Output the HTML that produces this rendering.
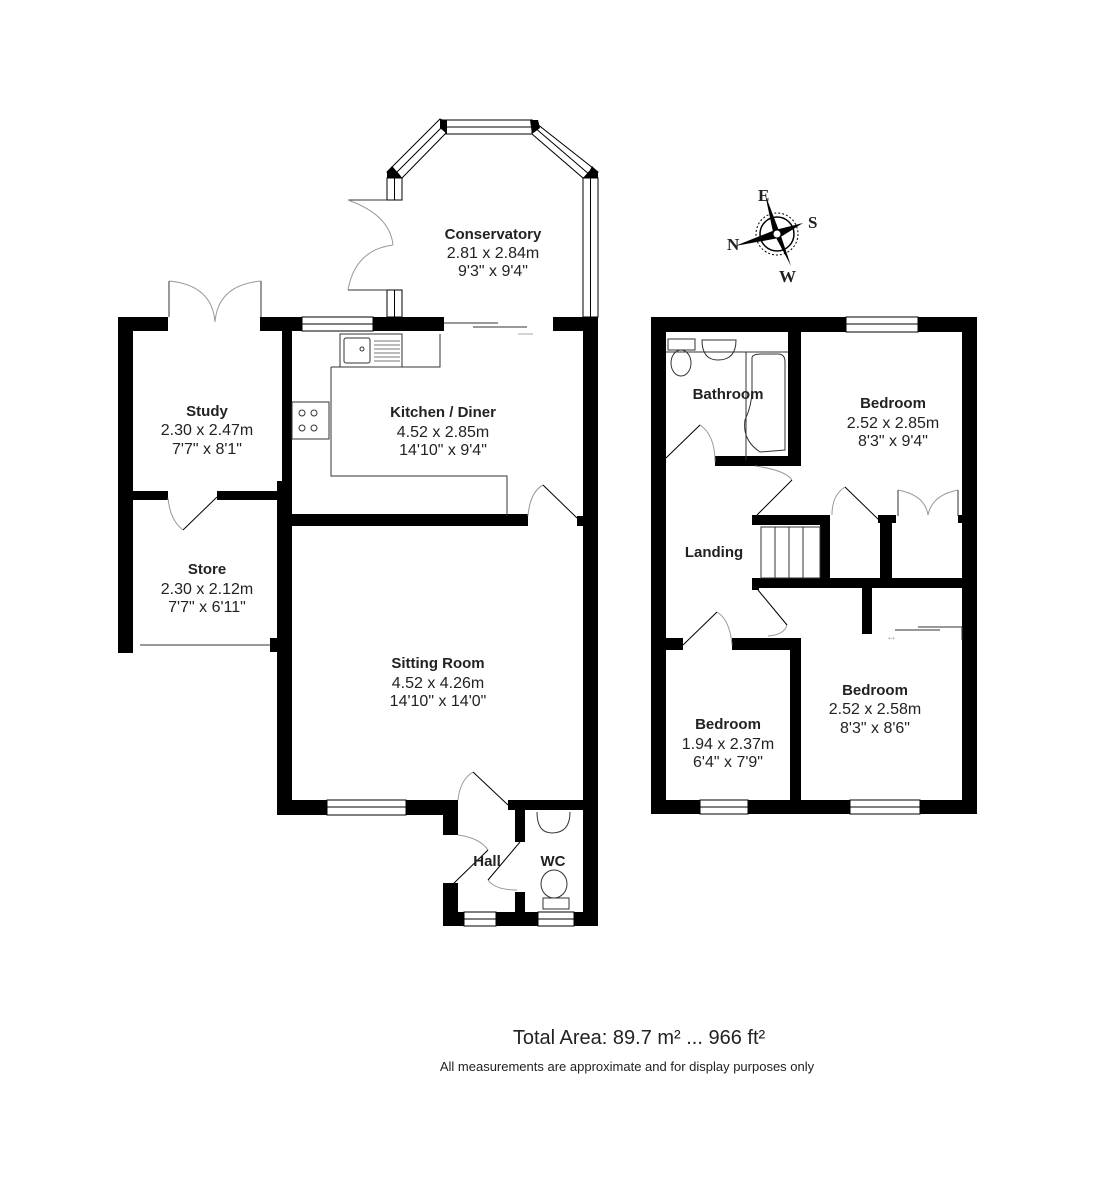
<!DOCTYPE html>
<html><head><meta charset="utf-8"><style>
html,body{margin:0;padding:0;background:#fff}
svg{display:block}
text{font-family:"Liberation Sans",Arial,sans-serif;fill:#222}
.t{font-weight:bold;font-size:15px}
.d{font-size:16px}
</style></head><body>
<svg width="1096" height="1200" viewBox="0 0 1096 1200" xmlns="http://www.w3.org/2000/svg">
<g fill="#000">
<rect x="118" y="317" width="50" height="14"/>
<rect x="260" y="317" width="42" height="14"/>
<rect x="373" y="317" width="71" height="14"/>
<rect x="553" y="317" width="45" height="14"/>
<rect x="118" y="317" width="15" height="336"/>
<rect x="282" y="331" width="10" height="150"/>
<rect x="133" y="491" width="35" height="9"/>
<rect x="217" y="491" width="65" height="9"/>
<rect x="270" y="638" width="22" height="14"/>
<rect x="277" y="481" width="15" height="334"/>
<rect x="292" y="514" width="236" height="12"/>
<rect x="583" y="317" width="15" height="609"/>
<rect x="577" y="516" width="8" height="10"/>
<rect x="277" y="800" width="181" height="15"/>
<rect x="443" y="800" width="15" height="35"/>
<rect x="443" y="883" width="15" height="43"/>
<rect x="443" y="912" width="155" height="14"/>
<rect x="508" y="800" width="90" height="10"/>
<rect x="515" y="800" width="10" height="42"/>
<rect x="515" y="892" width="10" height="20"/>
<rect x="651" y="317" width="326" height="15"/>
<rect x="651" y="317" width="15" height="497"/>
<rect x="962" y="317" width="15" height="497"/>
<rect x="651" y="800" width="326" height="14"/>
<rect x="788" y="331" width="13" height="135"/>
<rect x="715" y="456" width="86" height="10"/>
<rect x="752" y="515" width="78" height="10"/>
<rect x="820" y="515" width="10" height="70"/>
<rect x="752" y="515" width="9" height="10"/>
<rect x="752" y="578" width="225" height="10"/>
<rect x="752" y="578" width="7" height="12"/>
<rect x="880" y="515" width="12" height="70"/>
<rect x="878" y="515" width="18" height="8"/>
<rect x="958" y="515" width="6" height="8"/>
<rect x="862" y="588" width="10" height="46"/>
<rect x="666" y="638" width="17" height="12"/>
<rect x="732" y="638" width="69" height="12"/>
<rect x="790" y="638" width="11" height="162"/>
</g>
<g fill="#fff" stroke="#000" stroke-width="1">
<rect x="302" y="317" width="71" height="14"/><line x1="302" y1="324" x2="373" y2="324"/>
<rect x="327" y="800" width="79" height="15"/><line x1="327" y1="807" x2="406" y2="807"/>
<rect x="464" y="912" width="32" height="14"/><line x1="464" y1="919" x2="496" y2="919"/>
<rect x="538" y="912" width="36" height="14"/><line x1="538" y1="919" x2="574" y2="919"/>
<rect x="846" y="317" width="72" height="15"/><line x1="846" y1="324" x2="918" y2="324"/>
<rect x="700" y="800" width="48" height="14"/><line x1="700" y1="807" x2="748" y2="807"/>
<rect x="850" y="800" width="70" height="14"/><line x1="850" y1="807" x2="920" y2="807"/>
<rect x="387" y="178" width="15" height="22"/><line x1="394.5" y1="178" x2="394.5" y2="200"/>
<rect x="387" y="290" width="15" height="27"/><line x1="394.5" y1="290" x2="394.5" y2="317"/>
<rect x="583" y="178" width="15" height="139"/><line x1="590.5" y1="178" x2="590.5" y2="317"/>
<rect x="445" y="120" width="87" height="14"/><line x1="445" y1="127" x2="532" y2="127"/>
<polygon points="387,172 440,119 446,133 402,178"/>
<line x1="394" y1="175" x2="443" y2="126"/>
<polygon points="532,120 598,172 583,178 532,134"/>
<line x1="534" y1="127" x2="590" y2="175"/>
</g>
<g fill="#000">
<polygon points="387,172 392,166 400,175 402,178 387,178"/>
<polygon points="440,119 447,120 447,134 440,128"/>
<polygon points="530,120 538,120 540,128 532,134"/>
<polygon points="592,166 598,172 598,178 583,178 590,170"/>
</g>
<g fill="none" stroke="#333" stroke-width="1">
<path d="M348 200 L387 200 M348 290 L387 290"/>
<path d="M348 200 Q390 215 393 245 M348 290 Q355 250 393 245" stroke="#999"/>
<path d="M169 281 L169 317 M261 281 L261 317"/>
<path d="M169 281 Q212 285 215 322 M261 281 Q218 285 215 322" stroke="#999"/>
<path d="M168 498 Q170 520 183 530" stroke="#999"/><line x1="183" y1="530" x2="217" y2="497" stroke="#000"/>
<line x1="140" y1="645" x2="270" y2="645"/>
<path d="M444 323 L498 323 M473 327 L527 327"/>
<path d="M518 334 L533 334" stroke="#aaa"/>
<rect x="340" y="334" width="62" height="33"/>
<rect x="344" y="338" width="26" height="25" rx="2"/>
<circle cx="362" cy="349" r="2"/>
<path d="M374 341h26M374 345h26M374 349h26M374 353h26M374 357h26M374 361h26" stroke="#777"/>
<path d="M331 367 L331 476 L507 476 L507 516 M402 367 L440 367 L440 334"/>
<line x1="331" y1="367" x2="440" y2="367"/>
<rect x="292" y="402" width="37" height="37"/>
<circle cx="302" cy="413" r="3"/><circle cx="314" cy="413" r="3"/><circle cx="302" cy="428" r="3"/><circle cx="314" cy="428" r="3"/>
<path d="M528 516 Q530 492 543 485" stroke="#999"/><line x1="543" y1="485" x2="577" y2="518" stroke="#000"/>
<path d="M458 800 Q460 780 473 772" stroke="#999"/><line x1="473" y1="772" x2="508" y2="805" stroke="#000"/>
<path d="M458 835 Q480 838 488 850" stroke="#999"/><line x1="488" y1="850" x2="452" y2="885" stroke="#000"/>
<path d="M517 890 Q495 890 488 880" stroke="#999"/><line x1="488" y1="880" x2="520" y2="842" stroke="#000"/>
<path d="M537 812 Q537 833 552 833 Q570 833 570 812"/>
<ellipse cx="554" cy="884" rx="13" ry="14"/>
<rect x="543" y="898" width="26" height="11"/>
<line x1="666" y1="352" x2="788" y2="352"/>
<rect x="668" y="339" width="27" height="11"/>
<ellipse cx="681" cy="363" rx="10" ry="13"/>
<path d="M702 340 Q702 360 718 360 Q736 360 736 340 Z"/>
<path d="M746 352 L746 460 M746 352 L788 352"/>
<path d="M752 358 Q752 354 762 354 L778 354 Q785 354 785 362 L785 450 L760 452 Q742 440 745 420 Q752 405 752 390 Z"/>
<path d="M715 462 Q715 435 700 425" stroke="#999"/><line x1="700" y1="425" x2="666" y2="458" stroke="#000"/>
<path d="M755 466 Q785 470 792 480" stroke="#999"/><line x1="792" y1="480" x2="757" y2="515" stroke="#000"/>
<rect x="761" y="527" width="59" height="51"/>
<path d="M775 527v51M789 527v51M803 527v51"/>
<path d="M832 515 Q832 495 845 487" stroke="#999"/><line x1="845" y1="487" x2="880" y2="521" stroke="#000"/>
<path d="M898 490 L898 516 M958 490 L958 516"/>
<path d="M898 490 Q925 495 928 515 M958 490 Q932 495 928 515" stroke="#999"/>
<path d="M787 625 Q784 635 768 636" stroke="#999"/><line x1="787" y1="625" x2="758" y2="590" stroke="#000"/>
<path d="M732 645 Q730 620 717 612" stroke="#999"/><line x1="717" y1="612" x2="683" y2="645" stroke="#000"/>
<path d="M895 630 L940 630 M918 627 L962 627 M962 627 L962 640"/>
</g>
<text x="886" y="640" font-size="11" style="fill:#aaa">↔</text>
<g transform="translate(777,234)">
<circle r="17" fill="none" stroke="#000" stroke-width="1.5"/>
<circle r="21" fill="none" stroke="#000" stroke-width="1" stroke-dasharray="2,2"/>
<polygon points="-4,-2 4,2 -12,-40" fill="#000"/>
<polygon points="-2,-4 2,4 -42,12" fill="#000"/>
<polygon points="-2,-4 2,4 26,-11" fill="#000"/>
<polygon points="-4,-2 4,2 14,32" fill="#000"/>
<circle r="4" fill="#fff" stroke="#000"/>
</g>
<g font-weight="bold" font-size="17">
<text x="758" y="201" style="font-family:'Liberation Serif',serif">E</text>
<text x="808" y="228" style="font-family:'Liberation Serif',serif">S</text>
<text x="727" y="250" style="font-family:'Liberation Serif',serif">N</text>
<text x="779" y="282" style="font-family:'Liberation Serif',serif">W</text>
</g>
<g text-anchor="middle">
<text class="t" x="493" y="239">Conservatory</text><text class="d" x="493" y="258">2.81 x 2.84m</text><text class="d" x="493" y="276">9'3" x 9'4"</text>
<text class="t" x="207" y="416">Study</text><text class="d" x="207" y="435">2.30 x 2.47m</text><text class="d" x="207" y="454">7'7" x 8'1"</text>
<text class="t" x="443" y="417">Kitchen / Diner</text><text class="d" x="443" y="437">4.52 x 2.85m</text><text class="d" x="443" y="455">14'10" x 9'4"</text>
<text class="t" x="207" y="574">Store</text><text class="d" x="207" y="594">2.30 x 2.12m</text><text class="d" x="207" y="612">7'7" x 6'11"</text>
<text class="t" x="438" y="668">Sitting Room</text><text class="d" x="438" y="688">4.52 x 4.26m</text><text class="d" x="438" y="706">14'10" x 14'0"</text>
<text class="t" x="487" y="866">Hall</text>
<text class="t" x="553" y="866">WC</text>
<text class="t" x="728" y="399">Bathroom</text>
<text class="t" x="893" y="408">Bedroom</text><text class="d" x="893" y="428">2.52 x 2.85m</text><text class="d" x="893" y="446">8'3" x 9'4"</text>
<text class="t" x="714" y="557">Landing</text>
<text class="t" x="875" y="695">Bedroom</text><text class="d" x="875" y="714">2.52 x 2.58m</text><text class="d" x="875" y="733">8'3" x 8'6"</text>
<text class="t" x="728" y="729">Bedroom</text><text class="d" x="728" y="749">1.94 x 2.37m</text><text class="d" x="728" y="767">6'4" x 7'9"</text>
<text x="639" y="1044" font-size="20">Total Area: 89.7 m² ... 966 ft²</text>
<text x="627" y="1071" font-size="13">All measurements are approximate and for display purposes only</text>
</g>
</svg>
</body></html>
